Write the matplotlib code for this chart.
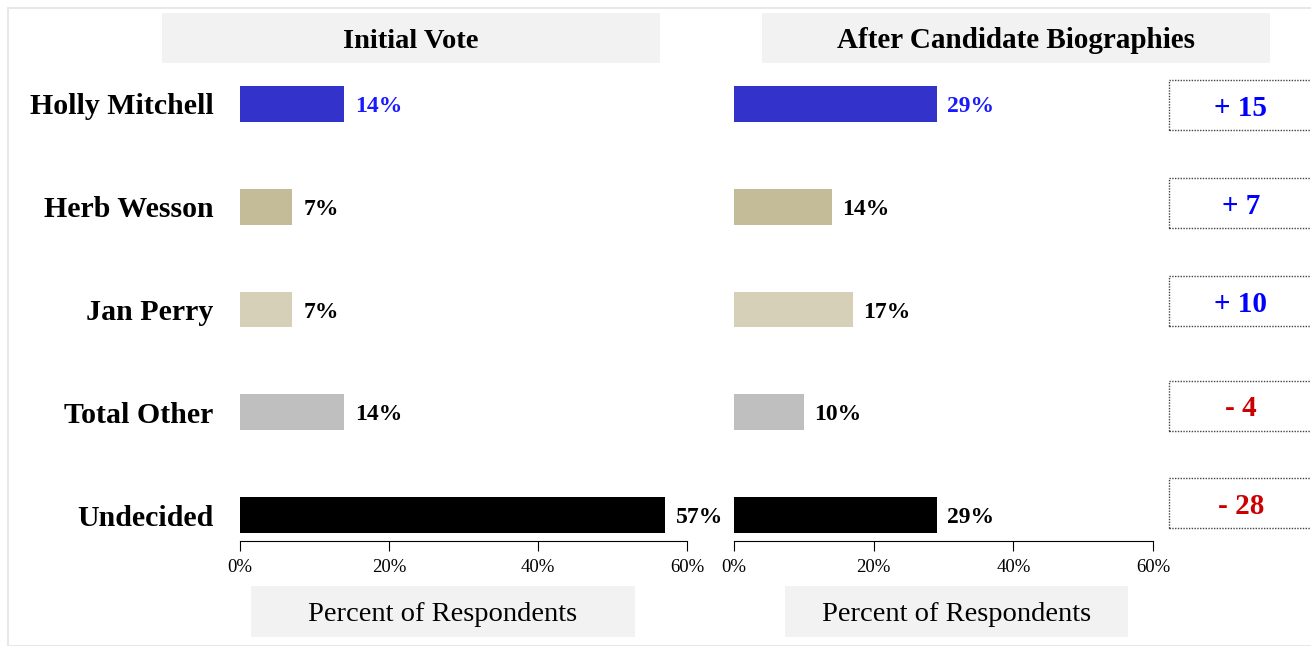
import matplotlib.pyplot as plt
from matplotlib.patches import Rectangle

# data
candidates = ["Holly Mitchell", "Herb Wesson", "Jan Perry", "Total Other", "Undecided"]
initial = [14, 7, 7, 14, 57]
after = [29, 14, 17, 10, 29]
changes = ["+ 15", "+ 7", "+ 10", "- 4", "- 28"]
bar_colors = ["#3333cc", "#c4bc98", "#d6d0b8", "#bfbfbf", "#000000"]
label_colors = ["#1a1aff", "black", "black", "black", "black"]
change_colors = ["#0000ff", "#0000ff", "#0000ff", "#cc0000", "#cc0000"]
ticks = [0, 20, 40, 60]

plt.rcParams['font.family'] = ['Liberation Serif', 'DejaVu Serif']

W, H = 1311, 646
fig = plt.figure(figsize=(W / 100, H / 100), dpi=100)

def fx(px):
    return px / W

def fy(py):
    return 1 - py / H

# light frame round the chart
fig.patches.append(Rectangle((fx(8), fy(646)), fx(1320) - fx(8), fy(8) - fy(646),
                             transform=fig.transFigure, fill=False,
                             edgecolor="#e8e8e8", linewidth=1.5))

def add_box(x0, y0, x1, y1, text, weight, size):
    fig.patches.append(Rectangle((fx(x0), fy(y1)), fx(x1 - x0), fy(y0) - fy(y1),
                                 transform=fig.transFigure, facecolor="#f2f2f2",
                                 edgecolor="none", zorder=0))
    fig.text(fx((x0 + x1) / 2), fy((y0 + y1) / 2), text, ha="center",
             va="center_baseline", fontsize=size, fontweight=weight)

add_box(162, 13, 660, 63, "Initial Vote", "bold", 20.5)
add_box(762, 13, 1270, 63, "After Candidate Biographies", "bold", 21)
add_box(251, 586, 635, 637, "Percent of Respondents", "normal", 20.5)
add_box(785, 586, 1128, 637, "Percent of Respondents", "normal", 20.5)

top, bottom = 70, 541
ylim = ((bottom - 104) / 102.75, (top - 104) / 102.75)
ypos = list(range(len(candidates)))

def draw(ax, values, show_names):
    ax.barh(ypos, values, height=0.35, color=bar_colors)
    for y, v, c in zip(ypos, values, label_colors):
        ax.text(v + 1.5, y, f"{v}%", va="center_baseline", ha="left", fontsize=17,
                fontweight="bold", color=c)
    ax.set_xlim(0, 60)
    ax.set_ylim(*ylim)
    ax.set_xticks(ticks)
    ax.set_xticklabels([f"{t}%" for t in ticks], fontsize=13.5)
    ax.tick_params(axis="x", length=7, width=0.8, pad=6)
    ax.set_yticks(ypos)
    if show_names:
        ax.set_yticklabels(candidates, fontsize=21.5, fontweight="bold")
        ax.tick_params(axis="y", length=0, pad=19)
    else:
        ax.set_yticklabels([])
        ax.tick_params(axis="y", length=0)
    for s in ["top", "right", "left"]:
        ax.spines[s].set_visible(False)
    ax.spines["bottom"].set_linewidth(0.8)

ax1 = fig.add_axes([fx(240), fy(bottom), fx(687 - 240), fy(top) - fy(bottom)])
draw(ax1, initial, True)
ax2 = fig.add_axes([fx(734), fy(bottom), fx(1153 - 734), fy(top) - fy(bottom)])
draw(ax2, after, False)

# change boxes on the right
box_centers = [105, 203, 301, 406, 503]
for cy, txt, col in zip(box_centers, changes, change_colors):
    fig.patches.append(Rectangle((fx(1169), fy(cy + 25)), fx(160), fy(cy - 25) - fy(cy + 25),
                                 transform=fig.transFigure, fill=False,
                                 edgecolor="#444444", linestyle=(0, (1, 1)), linewidth=1))
    fig.text(fx(1241), fy(cy), txt, ha="center", va="center_baseline", fontsize=21,
             fontweight="bold", color=col)

fig.savefig("out.png", dpi=100)
